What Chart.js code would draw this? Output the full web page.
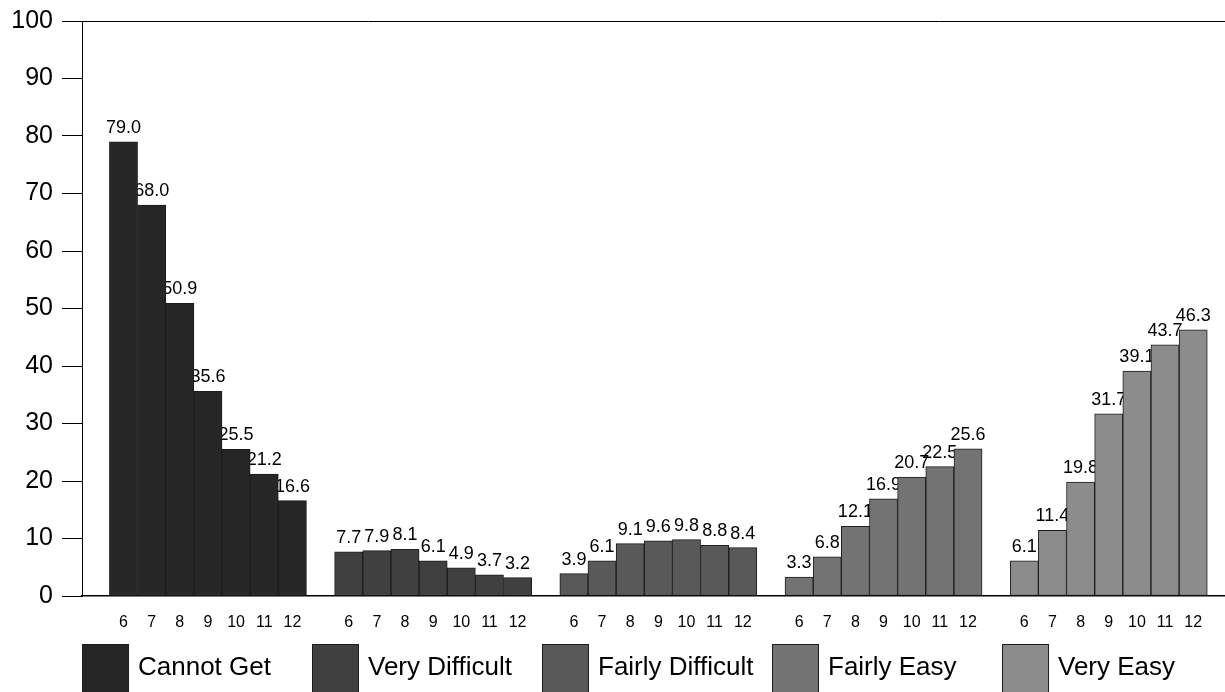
<!DOCTYPE html>
<html>
<head>
<meta charset="utf-8">
<script src="https://cdn.jsdelivr.net/npm/chart.js@4/dist/chart.umd.min.js"></script>
<style>
  html, body { margin: 0; padding: 0; background: #fff; overflow: hidden; }
  #wrap { position: relative; width: 1225px; height: 692px; overflow: hidden; }
  #chart { position: absolute; left: 0; top: 0; }
  .lg-item { position: absolute; top: 644px; height: 60px; }
  .lg-box { position: absolute; left: 0; top: 0; width: 47px; height: 60px; border: 1px solid #1c1c1c; box-sizing: border-box; }
  .lg-text { position: absolute; left: 56px; top: 6px; font: 26px "Liberation Sans", Arial, sans-serif; color: #000; white-space: nowrap; line-height: 32px; }
</style>
</head>
<body>
<div id="wrap">
  <canvas id="chart" width="1225" height="692"></canvas>
  <div id="legend"></div>
</div>
<script>
  const grades = ["6", "7", "8", "9", "10", "11", "12"];
  const groups = ["Cannot Get", "Very Difficult", "Fairly Difficult", "Fairly Easy", "Very Easy"];

  const cannotGet = [79.0, 68.0, 50.9, 35.6, 25.5, 21.2, 16.6];
  const veryDifficult = [7.7, 7.9, 8.1, 6.1, 4.9, 3.7, 3.2];
  const fairlyDifficult = [3.9, 6.1, 9.1, 9.6, 9.8, 8.8, 8.4];
  const fairlyEasy = [3.3, 6.8, 12.1, 16.9, 20.7, 22.5, 25.6];
  const veryEasy = [6.1, 11.4, 19.8, 31.7, 39.1, 43.7, 46.3];

  const yMin = 0, yMax = 100, yStep = 10;

  const series = [cannotGet, veryDifficult, fairlyDifficult, fairlyEasy, veryEasy];
  const colors = ["#262626", "#404040", "#595959", "#737373", "#8c8c8c"];
  const slot = grades.length + 1; // one empty slot between groups

  const font = '"Liberation Sans", Arial, sans-serif';

  // each bar sits at group*slot + grade index on a linear x scale
  const datasets = series.map((vals, g) => ({
    label: groups[g],
    data: vals.map((v, i) => ({ x: g * slot + i, y: v })),
    backgroundColor: colors[g],
    borderColor: "#1c1c1c",
    borderWidth: 1,
    borderSkipped: false,
    grouped: false,
    barPercentage: 1,
    categoryPercentage: 1,
  }));

  const tickPositions = [];
  series.forEach((vals, g) => vals.forEach((v, i) => tickPositions.push(g * slot + i)));

  const valueLabels = {
    id: "valueLabels",
    beforeDatasetsDraw(chart) {
      const ctx = chart.ctx;
      ctx.save();
      ctx.font = "18px " + font;
      ctx.fillStyle = "#000";
      ctx.textAlign = "center";
      ctx.textBaseline = "alphabetic";
      chart.data.datasets.forEach((ds, di) => {
        chart.getDatasetMeta(di).data.forEach((bar, i) => {
          ctx.fillText(ds.data[i].y.toFixed(1), bar.x, bar.y - 9);
        });
      });
      ctx.restore();
    },
  };

  new Chart(document.getElementById("chart"), {
    type: "bar",
    data: { datasets },
    options: {
      responsive: false,
      animation: false,
      devicePixelRatio: 1,
      layout: { padding: { top: 21, right: 0, left: 0, bottom: 0 } },
      plugins: { legend: { display: false }, tooltip: { enabled: false } },
      scales: {
        x: {
          type: "linear",
          offset: false,
          min: -1.474,
          max: 39.13,
          grid: { display: false, drawTicks: false, offset: false },
          border: { display: true, color: "#000", width: 1.5 },
          afterBuildTicks: (scale) => {
            scale.ticks = tickPositions.map((p) => ({ value: p }));
          },
          afterFit: (scale) => {
            scale.height = 96;
            scale.paddingLeft = 0;
            scale.paddingRight = 0;
          },
          ticks: {
            autoSkip: false,
            maxRotation: 0,
            padding: 17,
            color: "#000",
            font: { family: font, size: 16 },
            callback: (v) => grades[Math.round(v) % slot],
          },
        },
        y: {
          min: yMin,
          max: yMax,
          grid: {
            color: (c) => (c.tick && c.tick.value === yMax ? "#000" : "transparent"),
            tickColor: "#000",
            tickLength: 20,
            lineWidth: 1,
          },
          border: { display: true, color: "#000", width: 1 },
          afterFit: (scale) => {
            scale.width = 82;
            scale.paddingTop = 0;
            scale.paddingBottom = 0;
          },
          ticks: {
            stepSize: yStep,
            padding: 9,
            color: "#000",
            font: { family: font, size: 25 },
          },
        },
      },
    },
    plugins: [valueLabels],
  });

  // legend in fixed columns like the original
  const legend = document.getElementById("legend");
  groups.forEach((name, g) => {
    const item = document.createElement("div");
    item.className = "lg-item";
    item.style.left = 82 + g * 230 + "px";
    item.innerHTML = '<div class="lg-box" style="background:' + colors[g] + '"></div><div class="lg-text">' + name + "</div>";
    legend.appendChild(item);
  });
</script>
</body>
</html>
